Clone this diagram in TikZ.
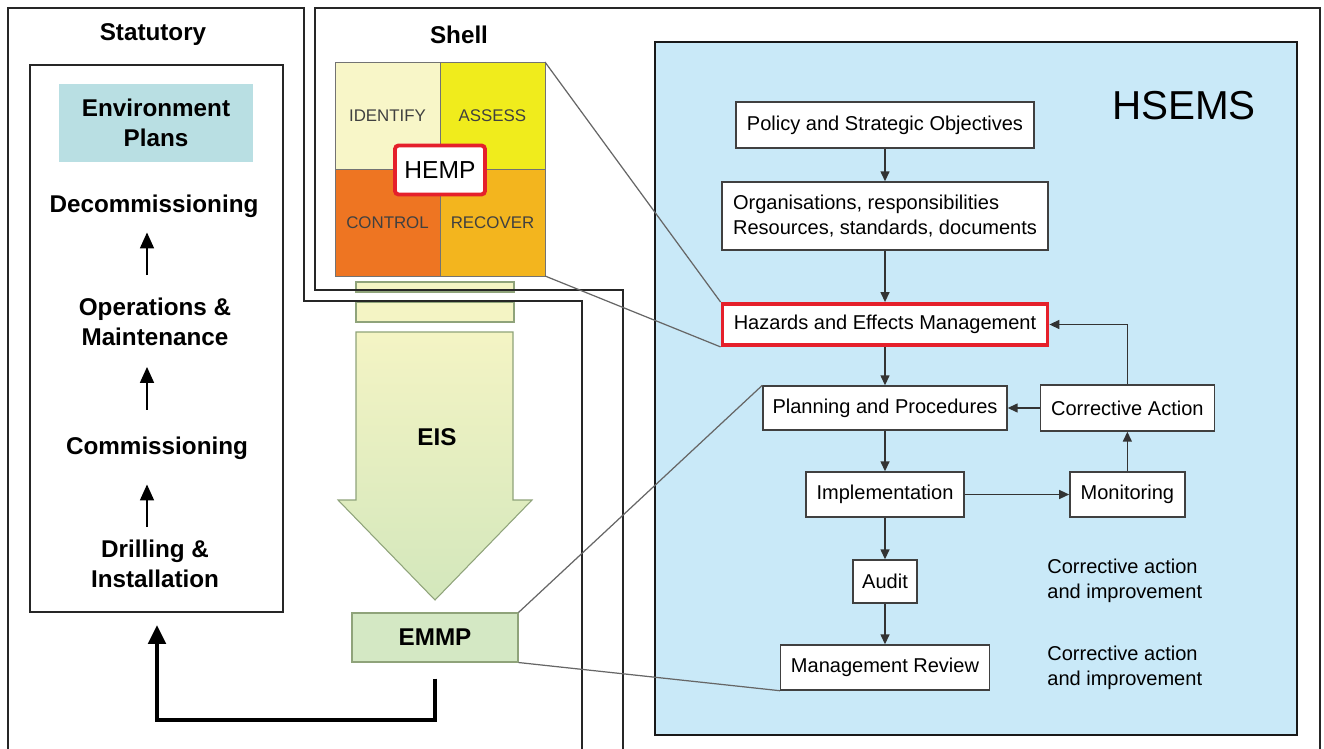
\documentclass[tikz,border=0pt]{standalone}
\usepackage{fontspec}
\setmainfont{Liberation Sans}
\usepackage{xcolor}
\definecolor{env-teal}{HTML}{B9DFE3}
\definecolor{hsems-blue}{HTML}{C9E9F8}
\definecolor{cell-identify}{HTML}{F8F6C8}
\definecolor{cell-assess}{HTML}{F0EC1C}
\definecolor{cell-control}{HTML}{EE7522}
\definecolor{cell-recover}{HTML}{F3B51E}
\definecolor{eis-top}{HTML}{F4F4C4}
\definecolor{eis-bottom}{HTML}{D3E7BC}
\definecolor{emmp-green}{HTML}{D4E8C4}
\definecolor{leaf-edge}{HTML}{8FA37A}
\definecolor{hemp-red}{HTML}{E5202B}
\usetikzlibrary{arrows.meta}
\usetikzlibrary{positioning}
\tikzset{frame/.style = {draw=black!85, line width=1.1pt}}
\tikzset{stage/.style = {align=center, inner sep=1pt, font=\fontsize{13.8}{17}\selectfont\bfseries}}
\tikzset{cell/.style = {draw=black!55, thin, minimum width=2.1cm, minimum height=2.14cm, inner sep=0, outer sep=0, text=black!75, font=\fontsize{9.6}{11}\selectfont}}
\tikzset{box/.style = {draw=black!75, fill=white, line width=0.8pt, inner sep=0, align=center, font=\fontsize{11.4}{14.2}\selectfont}}
\tikzset{redbox/.style = {box, draw=hemp-red, line width=2.2pt}}
\tikzset{note/.style = {anchor=west, align=left, inner sep=0, font=\fontsize{11.4}{14.2}\selectfont}}
\tikzset{leaf/.style = {draw=leaf-edge, line width=0.6pt}}
\tikzset{link/.style = {black!60, line width=0.7pt}}
\tikzset{arr/.style = {black!80, line width=0.8pt, -{Triangle[length=2mm, width=1.8mm]}}}
\tikzset{uparr/.style = {black, line width=1pt, -{Triangle[length=3.2mm, width=2.8mm]}}}
\tikzset{fatarr/.style = {black, line width=2.8pt, -{Triangle[length=3.8mm, width=3.4mm]}}}

\begin{document}
\begin{tikzpicture}[x=0.02cm, y=-0.02cm]
\useasboundingbox (0,0) rectangle (1324,749);

% Shell bars and EIS arrow go under the frames
\draw[leaf, fill=eis-top] (356,282) rectangle (514,292);
\draw[leaf, fill=eis-top] (356,302) rectangle (514,322);
\shadedraw[top color=eis-top, bottom color=eis-bottom, draw=leaf-edge, line width=0.6pt]
  (356,332) -- (513,332) -- (513,500) -- (532,500) -- (435,600) -- (338,500) -- (356,500) -- cycle;

% frames
\draw[frame] (8,760) -- (8,8) -- (304,8) -- (304,301) -- (582,301) -- (582,760);
\draw[frame] (623,760) -- (623,290) -- (315,290) -- (315,8) -- (1320,8) -- (1320,760);

% Statutory
\node[stage] (stat) at (153,35) {Statutory};
\node[frame, minimum width=5.06cm, minimum height=10.94cm, inner sep=0] (life) at (156.5,338.5) {};
\node[stage, fill=env-teal, minimum width=3.88cm, minimum height=1.56cm] (env) at (156,123) {Environment\\Plans};
\node[stage] (decom) at (154,206) {Decommissioning};
\node[stage] (ops) at (155,322) {Operations \&\\Maintenance};
\node[stage] (comm) at (157,448) {Commissioning};
\node[stage] (drill) at (155,564) {Drilling \&\\Installation};

\coordinate (ax) at (147,0);
\draw[uparr, shorten <=0.42cm, shorten >=0.26cm] (ax |- ops.north) -- (ax |- decom.south);
\draw[uparr, shorten <=0.5cm, shorten >=0.38cm] (ax |- comm.north) -- (ax |- ops.south);
\draw[uparr, shorten <=0.22cm, shorten >=0.46cm] (ax |- drill.north) -- (ax |- comm.south);

% Shell
\node[stage] (shell) at (459,35) {Shell};
\node[cell, fill=cell-identify] (idf) at (387.5,115.5) {IDENTIFY};
\node[cell, fill=cell-assess, right=0pt of idf] (ass) {ASSESS};
\node[cell, fill=cell-control, below=0pt of idf] (ctl) {CONTROL};
\node[cell, fill=cell-recover, right=0pt of ctl] (rec) {RECOVER};
\node[draw=hemp-red, line width=2.2pt, fill=white, rounded corners=2pt,
  minimum width=1.8cm, minimum height=0.98cm, font=\fontsize{14}{16}\selectfont] (hemp) at (440,170) {HEMP};

\node[stage] (eis) at (437,437) {EIS};
\node[stage, leaf, fill=emmp-green, minimum width=3.32cm, minimum height=0.98cm] (emmp) at (435,637.5) {EMMP};

\coordinate (bend) at (157,720);
\draw[fatarr] ([yshift=-0.32cm]emmp.south) |- (bend) -- ([yshift=-0.24cm]bend |- life.south);

% HSEMS
\node[draw=black!90, line width=1.2pt, fill=hsems-blue, minimum width=12.84cm, minimum height=13.86cm] (hsems) at (976,388.5) {};
\node[font=\fontsize{23}{26}\selectfont] (title) at (1184,106) {HSEMS};

\node[box, minimum width=5.96cm, minimum height=0.92cm] (pol) at (885,125) {Policy and Strategic Objectives};
\node[box, minimum width=6.52cm, minimum height=1.36cm, align=left] (org) at (885,216) {Organisations, responsibilities\\Resources, standards, documents};
\node[redbox, minimum width=6.5cm, minimum height=0.82cm] (haz) at (885,324.5) {Hazards and Effects Management};
\node[box, minimum width=4.88cm, minimum height=0.88cm] (plan) at (885,408) {Planning and Procedures};
\node[box, minimum width=3.48cm, minimum height=0.92cm, right=0.64cm of plan] (ca) {Corrective Action};
\node[box, minimum width=3.16cm, minimum height=0.9cm] (impl) at (885,494.5) {Implementation};
\node[box, minimum width=2.3cm, minimum height=0.9cm] (mon) at (ca |- impl) {Monitoring};
\node[box, minimum width=1.28cm, minimum height=0.86cm] (aud) at (885,581.5) {Audit};
\node[box, minimum width=4.18cm, minimum height=0.9cm] (rev) at (885,667.5) {Management Review};
\node[note] (note1) at (1047,581) {Corrective action\\and improvement};
\node[note] (note2) at (1047,668) {Corrective action\\and improvement};

\draw[arr] (pol) -- (org);
\draw[arr] (org) -- (haz);
\draw[arr] (haz) -- (plan);
\draw[arr] (plan) -- (impl);
\draw[arr] (impl) -- (aud);
\draw[arr] (aud) -- (rev);
\draw[arr] (impl) -- (mon);
\draw[arr] (mon) -- (ca);
\draw[arr] (ca) -- (plan);
\draw[arr] (ca) |- (haz);

% thin links between the panels
\draw[link] (ass.north east) -- (haz.north west);
\draw[link] (rec.south east) -- (haz.south west);
\draw[link] (emmp.north east) -- (plan.north west);
\draw[link] (emmp.south east) -- (rev.south west);

\end{tikzpicture}
\end{document}
